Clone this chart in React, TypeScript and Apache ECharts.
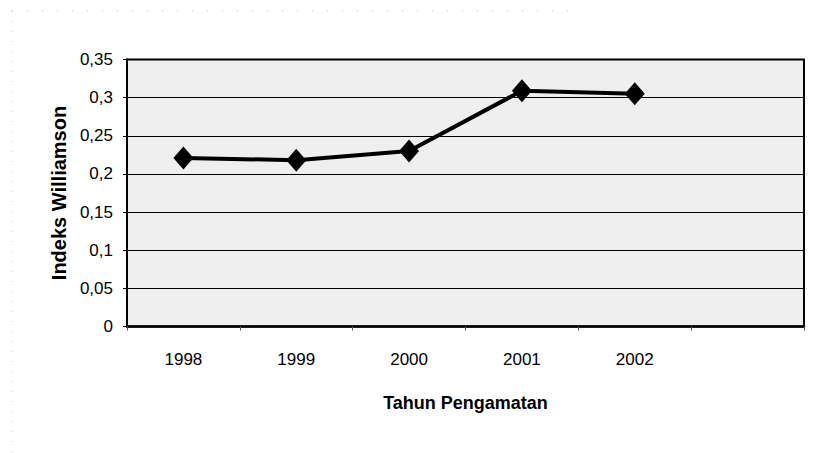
import React, { useEffect, useRef } from "react";
import * as echarts from "echarts";

const categories = ["1998", "1999", "2000", "2001", "2002", ""];
const williamson = [0.221, 0.218, 0.23, 0.309, 0.305, null];
const yTicks = { min: 0, max: 0.35, interval: 0.05 };

export default function App() {
  const ref = useRef<HTMLDivElement>(null);
  useEffect(() => {
    if (!ref.current) return;
    const chart = echarts.init(ref.current, null, { renderer: "svg" });
    chart.setOption({
      animation: false,
      backgroundColor: "#ffffff",
      textStyle: { fontFamily: "Liberation Sans, Arial, sans-serif" },
      graphic: [
        {
          type: "line",
          shape: { x1: 12, y1: 11, x2: 570, y2: 11 },
          style: { stroke: "#b8b8b8", lineWidth: 1, lineDash: [1, 14] },
          silent: true,
        },
        {
          type: "line",
          shape: { x1: 12, y1: 11, x2: 12, y2: 453 },
          style: { stroke: "#c8c8c8", lineWidth: 1, lineDash: [1, 9] },
          silent: true,
        },
      ],
      grid: {
        left: 127,
        top: 59.5,
        right: 15,
        bottom: 126.5,
        show: true,
        backgroundColor: "#efefef",
        borderColor: "#000000",
        borderWidth: 2,
      },
      xAxis: {
        type: "category",
        data: categories,
        boundaryGap: true,
        name: "Tahun Pengamatan",
        nameLocation: "middle",
        nameGap: 67,
        nameTextStyle: { fontSize: 18, fontWeight: "bold", color: "#000" },
        axisLine: { show: true, lineStyle: { color: "#000", width: 2.5 } },
        axisTick: { show: true, length: 4, lineStyle: { color: "#555" } },
        axisLabel: { fontSize: 17, color: "#000", margin: 24 },
        splitLine: { show: false },
      },
      yAxis: {
        type: "value",
        min: yTicks.min,
        max: yTicks.max,
        interval: yTicks.interval,
        name: "Indeks Williamson",
        nameLocation: "middle",
        nameGap: 54,
        nameTextStyle: { fontSize: 20, fontWeight: "bold", color: "#000" },
        axisLine: { show: true, lineStyle: { color: "#000", width: 2 } },
        axisTick: { show: true, length: 4, lineStyle: { color: "#000" } },
        axisLabel: {
          fontSize: 17,
          color: "#000",
          margin: 14,
          formatter: (v: number) => String(Math.round(v * 100) / 100).replace(".", ","),
        },
        splitLine: { show: true, lineStyle: { color: "#000", width: 1 } },
      },
      series: [
        {
          type: "line",
          data: williamson,
          symbol: "diamond",
          symbolSize: [20, 23],
          itemStyle: { color: "#000" },
          lineStyle: { color: "#000", width: 4 },
        },
      ],
    });
    return () => chart.dispose();
  }, []);
  return <div ref={ref} style={{ width: 819, height: 453, position: "absolute", left: 0, top: 0 }} />;
}
